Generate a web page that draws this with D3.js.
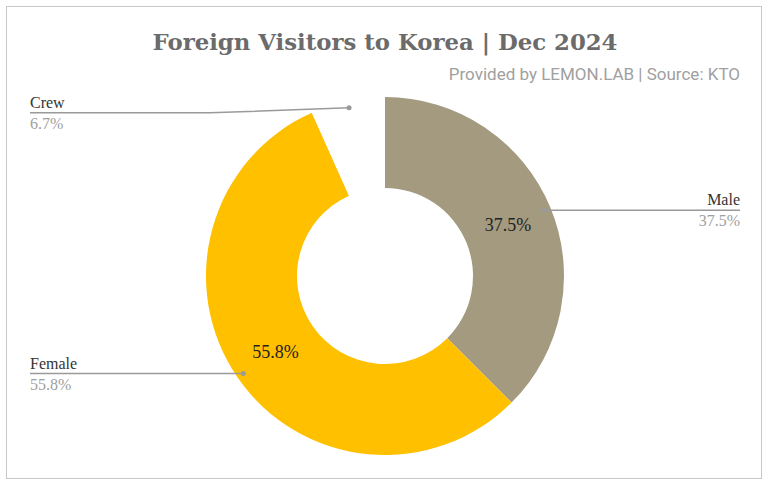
<!DOCTYPE html>
<html>
<head>
<meta charset="utf-8">
<script src="https://cdn.jsdelivr.net/npm/d3@7"></script>
<style>
  body { margin: 0; background: #fff; }
  svg { display: block; }
</style>
</head>
<body>
<svg id="canvas"></svg>
<script>
const categories = ["Male", "Female", "Crew"];
const shares = [37.5, 55.8, 6.7];
const sliceColors = ["#a39a80", "#ffc000", "#ffffff"];

const width = 768;
const height = 485;
const cx = 385;
const cy = 276;
const outerR = 179;
const innerR = 88;

let canvas = d3.select('#canvas')
    .attr('width', width)
    .attr('height', height);

// frame
canvas.append('rect')
    .attr('x', 6.5).attr('y', 6.5)
    .attr('width', 755).attr('height', 472)
    .attr('fill', 'none')
    .attr('stroke', '#c8c8c8');

canvas.append('text')
    .attr('x', 385).attr('y', 50)
    .attr('text-anchor', 'middle')
    .attr('font-family', 'DejaVu Serif, serif')
    .attr('font-weight', 'bold')
    .attr('font-size', 23)
    .attr('textLength', 465)
    .attr('lengthAdjust', 'spacingAndGlyphs')
    .attr('fill', '#6b6b6b')
    .text('Foreign Visitors to Korea | Dec 2024');

canvas.append('text')
    .attr('x', 740).attr('y', 80)
    .attr('text-anchor', 'end')
    .attr('font-family', 'Roboto, sans-serif')
    .attr('font-size', 17)
    .attr('fill', '#a0a0a0')
    .text('Provided by LEMON.LAB | Source: KTO');

const values = categories.map((c, i) => ({ name: c, share: shares[i], color: sliceColors[i] }));

const pie = d3.pie().sort(null).value(d => d.share);
const arcs = pie(values);

const arc = d3.arc().innerRadius(innerR).outerRadius(outerR);
const labelArc = d3.arc().innerRadius(133).outerRadius(133);
const dotArc = d3.arc().innerRadius(172).outerRadius(172);

let g = canvas.append('g').attr('transform', 'translate(' + cx + ',' + cy + ')');

g.selectAll('path')
    .data(arcs)
    .enter()
    .append('path')
    .attr('d', arc)
    .attr('fill', d => d.data.color);

// inner value labels (not for the blank crew slice)
g.selectAll('.inner')
    .data(arcs.filter(d => d.data.name !== 'Crew'))
    .enter()
    .append('text')
    .attr('class', 'inner')
    .attr('transform', d => 'translate(' + labelArc.centroid(d) + ')')
    .attr('text-anchor', 'middle')
    .attr('dy', '0.35em')
    .attr('font-family', 'Liberation Serif, serif')
    .attr('font-size', 18)
    .attr('fill', '#222')
    .text(d => d.data.share.toFixed(1) + '%');

// leader lines and outside labels
const labelX = { Male: 740, Female: 30, Crew: 30 };

arcs.forEach(d => {
    const p = dotArc.centroid(d);
    const px = cx + p[0];
    const py = cy + p[1];
    const lx = labelX[d.data.name];
    const right = lx > cx;
    let ly = py;
    let pts;
    if (d.data.name === 'Crew') {
        ly = py + 5;
        pts = [[px, py], [210, ly], [lx, ly]];
    } else {
        pts = [[px, py], [lx, ly]];
    }
    canvas.append('path')
        .attr('d', d3.line()(pts))
        .attr('fill', 'none')
        .attr('stroke', '#9a9a9a')
        .attr('stroke-width', 1.5);
    canvas.append('circle')
        .attr('cx', px).attr('cy', py).attr('r', 2.5)
        .attr('fill', '#9a9a9a');
    canvas.append('text')
        .attr('x', lx).attr('y', ly - 5)
        .attr('text-anchor', right ? 'end' : 'start')
        .attr('font-family', 'Liberation Serif, serif')
        .attr('font-size', 16)
        .attr('fill', '#333')
        .text(d.data.name);
    canvas.append('text')
        .attr('x', lx).attr('y', ly + 16)
        .attr('text-anchor', right ? 'end' : 'start')
        .attr('font-family', 'Liberation Serif, serif')
        .attr('font-size', 16)
        .attr('fill', '#a0a0a0')
        .text(d.data.share.toFixed(1) + '%');
});
</script>
</body>
</html>
